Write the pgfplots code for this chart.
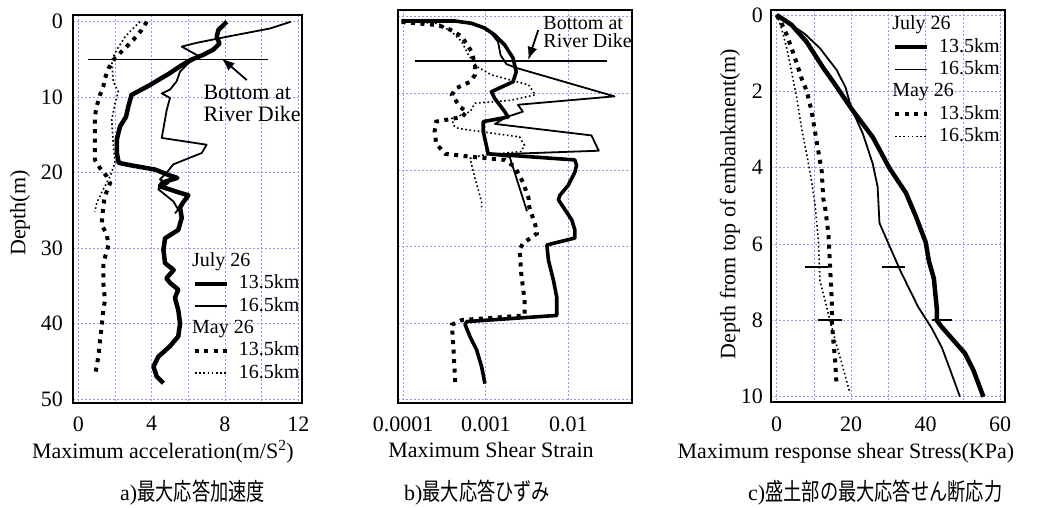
\documentclass[border=0pt]{standalone}
\usepackage{fontspec}
\setmainfont{Liberation Serif}
\newfontfamily\cjk[FakeStretch=0.76]{Noto Sans CJK JP}
\usepackage{pgfplots}
\pgfplotsset{compat=1.18}
\usetikzlibrary{arrows.meta}

\definecolor{gridblue}{RGB}{150,150,245}

\pgfplotsset{
  jul135/.style={black, line width=4.5pt, line join=round},
  jul165/.style={black, line width=1.8pt, line join=round},
  may135/.style={black, line width=4pt, dash pattern=on 4pt off 5.5pt},
  may165/.style={black, line width=1.6pt, dash pattern=on 1.6pt off 2.6pt},
  depthaxis/.style={
    scale only axis, y dir=reverse, clip=false,
    axis line style={line width=2.2pt},
    major tick length=0pt, minor tick length=0pt,
    major grid style={dash pattern=on 2pt off 2pt, draw=gridblue, line width=0.7pt},
    minor grid style={dash pattern=on 2pt off 2pt, draw=gridblue, line width=0.7pt},
    /pgf/number format/assume math mode=true,
    ticklabel style={font=\fontsize{22}{22}\selectfont},
    label style={font=\fontsize{22}{22}\selectfont},
    xticklabel style={anchor=north, inner sep=0pt, yshift=-13pt},
    yticklabel style={anchor=east, inner sep=0pt, xshift=-9.7pt},
    legend image code/.code={\draw[##1] (0pt,0pt) -- (32pt,0pt); \path (41.7pt,0pt);},
    legend cell align=left,
    legend style={draw=none, fill=none, inner sep=0pt, outer sep=0pt,
      row sep=4.3pt, column sep=0pt,
      font=\fontsize{20}{20}\selectfont,
      nodes={inner sep=0pt, text height=14pt, text depth=4pt, anchor=west}},
  },
}

% a heading row (e.g. the date) inside a legend
\newcommand{\legendhead}[1]{%
  \addlegendimage{legend image code/.code={\node[anchor=west, inner sep=0pt,
      text height=14pt, text depth=4pt, font=\fontsize{20}{20}\selectfont]
      at (-3.3pt,0pt) {\makebox[0pt][l]{#1}};}}%
  \addlegendentry{}}

\begin{document}
\begin{tikzpicture}
\useasboundingbox (0,0) rectangle (1042pt,-508pt);

% ---------------- a) maximum acceleration ----------------
\begin{axis}[depthaxis,
  at={(72.7pt,-15pt)}, anchor=north west, width=229.6pt, height=388.3pt,
  xmin=-0.31, xmax=12.22, ymin=-0.89, ymax=50.57,
  grid=both, xtick={0,4,8,12}, minor xtick={2,6,10}, ytick={0,10,...,50},
  xlabel={Maximum acceleration(m/S\textsuperscript{2})}, ylabel={Depth(m)},
  xlabel style={at={(axis description cs:0.393,-0.141)}, anchor=base},
  ylabel style={at={(axis description cs:-0.2295,0.49)}, anchor=center},
  legend style={at={(axis description cs:0.518,0.388)}, anchor=north west},
]
\legendhead{July 26}
\addplot[jul135] coordinates {
 (8.1,0) (7.64,1.1) (7.55,2.0) (7.7,2.9) (7.36,3.7) (6.8,4.4) (6.1,5.1)
 (5.55,5.9) (5.0,6.8) (3.9,8.4) (2.9,9.7) (2.73,11.2) (2.6,12.6) (2.27,13.9)
 (2.1,15.6) (2.1,17.4) (2.2,18.7) (2.8,19.0) (4.2,19.6) (4.9,20.3) (5.4,20.7)
 (4.6,21.3) (4.45,21.8) (5.45,22.6) (6.0,23.0) (5.7,24.0) (5.55,24.6)
 (5.64,26.0) (5.45,27.6) (4.73,28.7) (4.64,30.2) (4.73,32) (5.2,32.9)
 (4.8,34) (5.0,34.6) (5.45,35.5) (5.27,36.6) (5.45,38.2) (5.55,40)
 (5.45,41.7) (5.0,43) (4.36,44.4) (4.1,45.7) (4.27,47) (4.64,47.9)};
\addlegendentry{13.5km}
\addplot[jul165] coordinates {
 (11.6,0) (10.45,0.9) (8.3,1.9) (6.45,2.8) (5.64,3.3) (6.6,4.6) (6.0,5.5)
 (5.55,6.6) (5.36,7.9) (5.0,9.0) (4.55,9.5) (5.0,10.1) (4.82,11.7)
 (4.55,15.4) (7.0,16.3) (6.73,17.4) (5.18,18.9) (4.82,20.0) (4.45,20.9)
 (4.9,21.4) (4.36,22.2) (5.18,23.8) (5.45,24.9) (5.27,25.4)};
\addlegendentry{16.5km}
\legendhead{May 26}
\addplot[may135] coordinates {
 (3.73,0) (3.45,1.1) (3.0,2.4) (2.55,3.5) (2.0,4.8) (1.64,6.2) (1.45,7.5)
 (1.36,8.6) (1.18,9.7) (1.0,11.2) (0.9,12.6) (0.9,15.2) (0.9,18.3)
 (1.18,19.4) (1.55,20.5) (1.73,21.4) (1.45,23.1) (1.36,24.4) (1.27,26.9)
 (1.55,28.2) (1.64,29.6) (1.36,32) (1.36,34.6) (1.45,36.9) (1.36,38.2)
 (1.27,40.4) (1.18,42.2) (1.09,44.4) (0.9,47)};
\addlegendentry{13.5km}
\addplot[may165] coordinates {
 (3.36,0) (2.9,1.1) (2.55,2.0) (2.1,3.7) (1.82,5.1) (1.9,7.9) (2.18,9.3)
 (2.0,10.8) (1.82,13) (1.9,16.1) (2.0,18.7) (1.73,20.5) (1.36,22.2)
 (1.0,24) (0.9,25.2)};
\addlegendentry{16.5km}
% bottom of the river dike
\addplot[black, line width=1.8pt, forget plot] coordinates {(0.55,5) (10.37,5)};
\draw[line width=1.8pt, -{Latex[length=13pt,width=10pt]}]
  (axis cs:9.19,7.73) -- (axis cs:7.82,4.85);
\node[anchor=base west, inner sep=0pt, font=\fontsize{22}{22}\selectfont]
  at (axis cs:6.82,10.28) {Bottom at};
\node[anchor=base west, inner sep=0pt, font=\fontsize{22}{22}\selectfont]
  at (axis cs:6.82,13.16) {River Dike};
\end{axis}

% ---------------- b) maximum shear strain ----------------
\begin{axis}[depthaxis,
  at={(398.3pt,-10pt)}, anchor=north west, width=234pt, height=393.3pt,
  xmode=log, xmin=8.71e-5, xmax=0.0597, ymin=-0.87, ymax=50.47,
  grid=major, xtick={1e-4,1e-3,1e-2}, xticklabels={0.0001,0.001,0.01},
  ytick={0,10,...,50}, yticklabels={},
  xlabel={Maximum Shear Strain},
  xlabel style={at={(axis description cs:0.396,-0.139)}, anchor=base},
]
\addplot[jul135, line width=3.6pt] coordinates {
 (9.55e-5,0.57) (4.27e-4,0.57) (6.76e-4,0.87) (9.77e-4,1.5) (1.29e-3,2.4)
 (1.70e-3,3.7) (2.14e-3,5.4) (2.34e-3,7.2) (2.14e-3,8.5) (1.17e-3,9.8)
 (1.29e-3,10.7) (1.70e-3,12.4) (1.86e-3,13.1) (9.33e-4,13.7) (9.33e-4,15.0)
 (1.07e-3,17.9) (1.20e-2,18.7) (1.26e-2,19.4) (1.20e-2,20.3) (1.0e-2,22.0)
 (7.94e-3,23.3) (7.59e-3,23.9) (9.12e-3,25.2) (1.10e-2,26.5) (1.20e-2,27.8)
 (1.20e-2,28.9) (5.50e-3,29.8) (5.75e-3,31.8) (6.61e-3,34.4) (7.24e-3,36.6)
 (7.24e-3,39.0) (5.89e-4,39.8) (5.62e-4,40.2) (6.46e-4,41.8) (7.76e-4,43.5)
 (8.91e-4,45.7) (9.77e-4,47.9)};
\addplot[jul165] coordinates {
 (9.55e-5,0.44) (3.89e-4,0.44) (8.13e-4,1.1) (1.17e-3,2.2) (1.41e-3,3.3)
 (1.51e-3,5.0) (1.78e-3,6.2) (2.45e-3,6.75) (3.63e-2,10.4) (2.45e-3,11.5)
 (2.82e-3,12.4) (1.78e-3,13.1) (1.29e-3,14.0) (1.91e-2,15.5) (2.34e-2,17.5)
 (1.12e-3,18.0) (1.95e-3,18.3) (3.16e-3,25.4)};
\addplot[may135] coordinates {
 (9.55e-5,0.7) (2.63e-4,1.1) (3.72e-4,1.7) (5.13e-4,2.6) (6.76e-4,4.6)
 (7.41e-4,6.3) (7.41e-4,7.6) (6.46e-4,8.5) (4.27e-4,9.4) (3.89e-4,10.2)
 (4.90e-4,11.8) (5.89e-4,12.4) (5.13e-4,13.1) (2.51e-4,13.7) (2.40e-4,15.0)
 (2.51e-4,16.6) (3.24e-4,17.9) (6.76e-4,18.3) (1.70e-3,18.7) (2.24e-3,19.6)
 (2.82e-3,21.6) (3.31e-3,23.7) (3.31e-3,24.6) (3.98e-3,27.2) (4.17e-3,28.3)
 (2.82e-3,29.6) (2.57e-3,30.4) (2.69e-3,33.5) (2.95e-3,37) (2.95e-3,39)
 (5.13e-4,39.6) (3.89e-4,40.2) (4.07e-4,43.5) (4.27e-4,47.9)};
\addplot[may165] coordinates {
 (9.55e-5,0.6) (2.63e-4,0.87) (3.89e-4,2.0) (5.13e-4,3.3) (6.17e-4,5.0)
 (7.76e-4,6.5) (1.17e-3,7.6) (3.31e-3,8.9) (3.98e-3,10.2) (2.04e-3,10.9)
 (7.41e-4,11.3) (6.46e-4,12.4) (3.89e-4,13.3) (4.07e-4,14.2) (4.68e-4,14.6)
 (2.57e-3,15.7) (2.95e-3,16.8) (2.69e-3,17.6) (8.91e-4,18.1) (6.46e-4,18.5)
 (7.41e-4,21.1) (8.91e-4,24.2) (8.91e-4,25.3)};
% bottom of the river dike
\addplot[black, line width=1.8pt] coordinates {(1.387e-4,5.78) (2.917e-2,5.78)};
\draw[line width=1.8pt, -{Latex[length=13pt,width=10pt]}]
  (axis cs:4.325e-3,1.74) -- (axis cs:3.273e-3,5.65);
\node[anchor=base west, inner sep=0pt, font=\fontsize{20}{20}\selectfont]
  at (axis cs:4.98e-3,1.61) {Bottom at};
\node[anchor=base west, inner sep=0pt, font=\fontsize{20}{20}\selectfont]
  at (axis cs:4.98e-3,4.05) {River Dike};
\end{axis}

% ---------------- c) shear stress in the embankment ----------------
\begin{axis}[depthaxis,
  at={(771pt,-10pt)}, anchor=north west, width=234pt, height=391.7pt,
  xmin=-1.52, xmax=61.3, ymin=-0.13, ymax=10.13,
  grid=both, xtick={0,20,40,60}, minor xtick={10,30,50}, ytick={0,2,...,10},
  xticklabel style={yshift=-2pt},
  yticklabel style={xshift=1.7pt},
  xlabel={Maximum response shear Stress(KPa)},
  ylabel={Depth from top of embankment(m)},
  xlabel style={at={(axis description cs:0.32,-0.144)}, anchor=base},
  ylabel style={at={(axis description cs:-0.175,0.505)}, anchor=center},
  legend style={at={(axis description cs:0.516,0.985)}, anchor=north west},
]
\legendhead{July 26}
\addplot[jul135] coordinates {
 (0,0) (4,0.26) (8,0.7) (12.6,1.4) (15.1,1.74) (20.4,2.5) (25.8,3.2)
 (30.2,4.0) (34.7,4.66) (37.3,5.26) (40,5.95) (40.9,6.46) (42.2,6.9)
 (43,7.7) (43,8.0) (44.3,8.17) (50.6,8.87) (52.8,9.3) (55.5,10.0)};
\addlegendentry{13.5km}
\addplot[jul165] coordinates {
 (0,0) (7.6,0.5) (11.6,0.87) (16.1,1.44) (18.5,1.9) (20,2.43) (23.1,3.1)
 (25.8,3.9) (27.1,4.5) (27.6,5.45) (30.2,6.03) (33.3,6.72) (38,7.65)
 (41.6,8.2) (44.3,8.7) (46.6,9.3) (49.2,10)};
\addlegendentry{16.5km}
\legendhead{May 26}
\addplot[may135] coordinates {
 (0,0) (1.3,0.22) (2.7,0.52) (4,0.87) (5.4,1.27) (6.7,1.66) (8.1,2.0)
 (9.4,2.53) (10.3,3.06) (11.2,3.58) (12.1,4.1) (12.5,4.8) (13,5.04)
 (13.9,5.74) (14.3,6.52) (14.8,7.48) (14.8,8.0) (15.2,8.52) (15.7,9.04)
 (16.1,9.74)};
\addlegendentry{13.5km}
\addplot[may165] coordinates {
 (0,0) (1.3,0.35) (2.7,0.87) (4,1.48) (5.4,2.18) (6.7,2.97) (8.1,3.67)
 (9.4,4.37) (10.3,4.98) (11.2,5.9) (11.6,6.96) (13,7.48) (14.3,8.0)
 (15.7,8.52) (17.5,9.13) (19.7,9.91)};
\addlegendentry{16.5km}
% short markers at 6.6 m and 8 m
\addplot[black, line width=1.8pt, forget plot] coordinates {(7.6,6.6) (13.9,6.6)};
\addplot[black, line width=1.8pt, forget plot] coordinates {(28.2,6.6) (34.5,6.6)};
\addplot[black, line width=1.8pt, forget plot] coordinates {(11,8) (17.6,8)};
\addplot[black, line width=1.8pt, forget plot] coordinates {(41.6,8) (47.2,8)};
\end{axis}

% panel captions
\node[anchor=base west, inner sep=0pt, font=\fontsize{22}{22}\selectfont]
  at (120pt,-500pt) {a)\cjk\fontsize{24}{24}\selectfont 最大応答加速度};
\node[anchor=base west, inner sep=0pt, font=\fontsize{22}{22}\selectfont]
  at (404pt,-500pt) {b)\cjk\fontsize{24}{24}\selectfont 最大応答ひずみ};
\node[anchor=base west, inner sep=0pt, font=\fontsize{22}{22}\selectfont]
  at (748pt,-500pt) {c)\cjk\fontsize{24}{24}\selectfont 盛土部の最大応答せん断応力};
\end{tikzpicture}
\end{document}
